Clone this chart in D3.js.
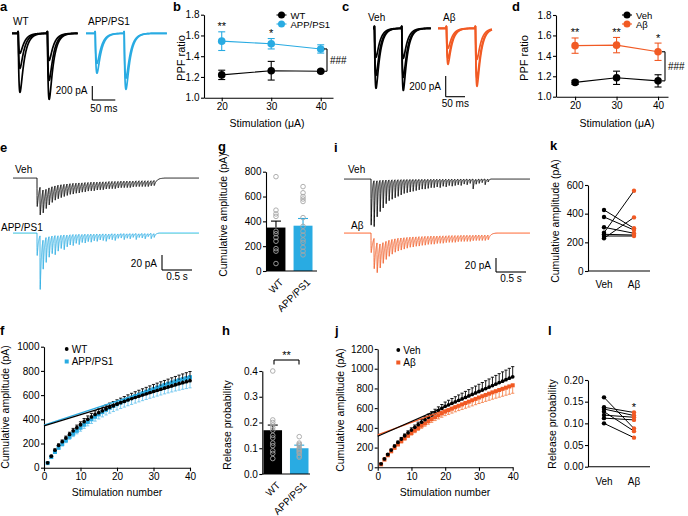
<!DOCTYPE html>
<html><head><meta charset="utf-8">
<script src="https://cdn.jsdelivr.net/npm/d3@7"></script>
<style>body{margin:0;background:#fff;} svg{display:block;}</style>
</head><body>
<script>
// ---------------- DATA ----------------
// paired-pulse traces (pA): each row = one trace [EPSC1, EPSC2]
const ppWT = [[286, 386], [500, 672], [843, 943]];
const ppAPP = [[430, 640], [570, 800]];
const ppVeh = [[280, 290], [455, 473], [580, 600]];
const ppAb = [[193, 300], [290, 483], [348, 560]];
const ppStimWT = [13.5, 77], ppStimAPP = [20, 83];
const ppStimVeh = [3.8, 74.5], ppStimAb = [21.9, 97];

// PPF ratio
const stimUA = [20, 30, 40];
const ppfWT = [1.22, 1.26, 1.255], ppfWTerr = [0.045, 0.09, 0.012];
const ppfAPP = [1.545, 1.52, 1.47], ppfAPPerr = [0.09, 0.05, 0.04];
const sigB = ["**", "*", ""];
const ppfVeh = [1.14, 1.185, 1.155], ppfVehErr = [0.02, 0.065, 0.06];
const ppfAb = [1.50, 1.505, 1.44], ppfAbErr = [0.075, 0.075, 0.085];
const sigD = ["**", "**", "*"];

// 20 Hz train EPSC amplitudes (pA), 40 pulses
const trainE_Veh = [38,38,32,27,24,22,20,19,18,17,16,15,15,14,14,13,13,12,12,12,11,11,11,10,10,10,10,9,9,9,9,9,8,8,8,8,8,8,7,7];
const trainE_APP = [30,72,40,34,28,24,26,21,18,20,16,14,15,12,14,11,12,10,11,9,10,8,9,10,7,8,9,6,6,8,6,7,5,8,5,6,7,4,7,5];
const trainI_Veh = [66,66,52,45,40,34,30,28,26,24,22,20,19,18,17,16,15,14,14,13,12,12,11,12,10,11,9,10,9,8,9,7,8,6,14,7,6,5,8,4];
const trainI_Ab = [28,44,44,36,31,27,24,22,20,19,18,17,16,15,15,14,14,13,13,12,12,12,11,11,11,10,10,10,10,9,9,9,9,9,8,8,8,8,8,7];

// cumulative amplitude (pA) vs stimulation number 1..40
const stimNum = d3.range(1, 41);
const cumWT = [40,95,145,185,215,245,275,305,330,355,380,400,420,440,455,470,485,500,512,525,537,548,560,571,582,592,602,612,622,632,641,650,659,668,677,686,695,703,711,719];
const cumWTerr = [5,8,10,12,14,16,18,20,22,24,26,28,29,30,31,32,33,34,35,36,38,40,42,44,46,48,50,52,54,56,58,60,62,64,66,68,70,72,74,76];
const cumAPP = [38,88,130,165,195,225,255,280,305,330,355,378,400,421,441,460,478,495,510,525,539,553,566,579,592,604,616,628,640,651,662,673,684,694,704,714,723,732,740,748];
const cumAPPerr = [5,8,10,13,15,18,20,23,25,28,30,32,34,36,38,40,42,44,46,48,50,52,54,56,58,60,62,64,66,68,70,72,74,76,78,80,82,84,86,88];
const fitWT = [345, 9.28], fitAPP = [352, 9.9];   // [intercept, slope]
const cumVeh = [35,85,130,175,215,252,287,320,350,378,405,432,458,483,507,530,553,575,597,619,634,649,664,679,694,709,724,739,754,769,784,799,814,829,844,859,874,889,904,918];
const cumVehErr = [4,6,8,10,12,14,16,18,20,22,24,26,28,30,32,34,36,38,40,43,46,49,52,55,58,61,64,67,70,73,76,79,82,85,88,91,94,97,100,103];
const cumAb = [30,78,122,162,198,232,264,294,322,348,374,399,423,446,468,489,509,528,547,565,580,595,610,624,638,652,666,680,694,708,721,734,747,760,772,784,796,808,820,832];
const cumAbErr = [3,5,7,9,11,13,15,17,19,21,23,25,27,29,31,33,35,37,39,41,43,45,47,49,51,53,55,57,59,61,63,65,67,69,71,73,75,77,79,81];
const fitVeh = [315, 15.0], fitAb = [330, 12.6];

// bar charts
const groupsG = ["WT", "APP/PS1"];
const cumBarMean = [350, 365], cumBarErr = [52, 58];
const cumDotsWT = [760, 490, 460, 440, 320, 300, 270, 240, 180, 160, 60];
const cumDotsAPP = [680, 630, 600, 580, 560, 430, 360, 320, 290, 250, 230, 190, 160, 130];
const prBarMean = [0.17, 0.10], prBarErr = [0.02, 0.012];
const prDotsWT = [0.40, 0.21, 0.20, 0.19, 0.18, 0.17, 0.15, 0.14, 0.12, 0.11, 0.09, 0.08, 0.06];
const prDotsAPP = [0.145, 0.12, 0.115, 0.11, 0.10, 0.095, 0.09, 0.085, 0.08, 0.07, 0.065];

// paired panels
const pairGroups = ["Veh", "A\u03b2"];
const kVeh = [426, 377, 305, 267, 256, 244, 228];
const kAb = [298, 286, 263, 560, 251, 244, 374];
const lVeh = [0.160, 0.137, 0.133, 0.127, 0.119, 0.112, 0.100];
const lAb = [0.088, 0.125, 0.118, 0.082, 0.114, 0.108, 0.067];

// ---------------- DRAWING ----------------
const FONT = "'Liberation Sans', Arial, Helvetica, sans-serif";
const FS = 10;
const BLUE = "#29abe2", ORANGE = "#f15a24", BLUE_L = "#6cc5ee", ORANGE_L = "#f5854f";
const svg = d3.select("body").append("svg").attr("width", 688).attr("height", 516)
  .style("font-family", FONT);

function txt(x, y, s, o = {}) {
  return svg.append("text").attr("x", x).attr("y", y).text(s)
    .attr("font-size", o.size || FS).attr("font-weight", o.bold ? "bold" : null)
    .attr("text-anchor", o.anchor || "start").attr("fill", o.fill || "#000");
}
function vtxt(cx, cy, s, size = 10.5) {
  svg.append("text").attr("transform", `translate(${cx + 3.6},${cy}) rotate(-90)`)
    .attr("text-anchor", "middle").attr("font-size", size).text(s);
}
function styleAx(g) {
  g.attr("font-size", FS).attr("font-family", FONT);
  g.selectAll("path,line").attr("stroke", "#000").attr("stroke-width", 1.1);
  g.selectAll("text").attr("fill", "#000");
}
function yAxis(x, scale, ticks, fmt) {
  const g = svg.append("g").attr("transform", `translate(${x},0)`)
    .call(d3.axisLeft(scale).tickValues(ticks).tickFormat(fmt).tickSize(3).tickPadding(1.5).tickSizeOuter(0));
  styleAx(g); return g;
}
function xAxis(y, scale, ticks, fmt) {
  const g = svg.append("g").attr("transform", `translate(0,${y})`)
    .call(d3.axisBottom(scale).tickValues(ticks).tickFormat(fmt).tickSize(3.5).tickPadding(2).tickSizeOuter(0));
  styleAx(g); return g;
}
function hline(x1, x2, y, c = "#000", w = 1.1) {
  svg.append("line").attr("x1", x1).attr("x2", x2).attr("y1", y).attr("y2", y).attr("stroke", c).attr("stroke-width", w);
}
function vline(x, y1, y2, c = "#000", w = 1.1) {
  svg.append("line").attr("x1", x).attr("x2", x).attr("y1", y1).attr("y2", y2).attr("stroke", c).attr("stroke-width", w);
}

// panel letters
[["a", 0, 11], ["b", 173, 11], ["c", 342, 11], ["d", 512, 11],
 ["e", 0, 152], ["g", 218, 151], ["i", 334, 152], ["k", 550, 150],
 ["f", 0, 335], ["h", 222, 335], ["j", 335, 335], ["l", 548, 335]]
  .forEach(([s, x, y]) => txt(x, y, s, { bold: true, size: 13 }));

// EPSC model
function epsc(tMax, dt, stims, amps, tauR, tauD, art) {
  const tpk = tauD * tauR / (tauD - tauR) * Math.log(tauD / tauR);
  const norm = Math.exp(-tpk / tauD) - Math.exp(-tpk / tauR);
  return d3.range(0, tMax, dt).map(t => {
    let v = 0;
    stims.forEach((s, i) => {
      const d = t - s;
      if (d > 0) v += amps[i] * (Math.exp(-d / tauD) - Math.exp(-d / tauR)) / norm;
      if (art && d >= -0.5 && d < 0.5) v -= art;
    });
    return [t, v];
  });
}
function drawTrace(pts, xs, ys, color, w) {
  svg.append("path").datum(pts).attr("fill", "none").attr("stroke", color).attr("stroke-width", w)
    .attr("stroke-linejoin", "round")
    .attr("d", d3.line().x(d => xs(d[0])).y(d => ys(d[1])));
}

// ---- a ----
(function () {
  const pxms = 0.46, pxpa = 14 / 200, base = 33.3;
  const ys = d3.scaleLinear().domain([0, 200]).range([base, base + 200 * pxpa]);
  let xs = d3.scaleLinear().domain([0, 143]).range([12, 12 + 143 * pxms]);
  ppWT.forEach(a => drawTrace(epsc(143, 0.25, ppStimWT, a, 2, 9, 25), xs, ys, "#000", 1.7));
  xs = d3.scaleLinear().domain([0, 176]).range([86, 86 + 176 * pxms]);
  ppAPP.forEach(a => drawTrace(epsc(176, 0.25, ppStimAPP, a, 2, 9, 25), xs, ys, BLUE, 1.7));
  txt(13, 25, "WT"); txt(88, 25, "APP/PS1");
  const sy = d3.scaleLinear().domain([0, 200]).range([100, 100 - 200 * pxpa]);
  const sx = d3.scaleLinear().domain([0, 50]).range([92.3, 92.3 + 50 * pxms]);
  vline(sx(0), sy(0), sy(200)); hline(sx(0), sx(50), sy(0));
  txt(87.5, 94, "200 pA", { anchor: "end" });
  txt(sx(25), 112, "50 ms", { anchor: "middle" });
})();

// ---- c ----
(function () {
  const pxms = 0.386, pxpa = 20.7 / 200, base = 28.3;
  const ys = d3.scaleLinear().domain([0, 200]).range([base, base + 200 * pxpa]);
  let xs = d3.scaleLinear().domain([0, 150]).range([373, 373 + 150 * pxms]);
  ppVeh.forEach(a => drawTrace(epsc(150, 0.25, ppStimVeh, a, 2, 10, 20), xs, ys, "#000", 1.7));
  xs = d3.scaleLinear().domain([0, 140]).range([438, 438 + 140 * pxms]);
  ppAb.forEach(a => drawTrace(epsc(140, 0.25, ppStimAb, a, 2, 10, 20), xs, ys, ORANGE, 1.7));
  txt(368, 21, "Veh"); txt(443, 21, "A\u03b2");
  const sy = d3.scaleLinear().domain([0, 200]).range([96.7, 96.7 - 200 * pxpa]);
  const sx = d3.scaleLinear().domain([0, 50]).range([445.7, 445.7 + 50 * pxms]);
  vline(sx(0), sy(0), sy(200)); hline(sx(0), sx(50), sy(0));
  txt(441, 90, "200 pA", { anchor: "end" });
  txt(sx(25), 107, "50 ms", { anchor: "middle" });
})();

// ---- PPF panels b, d ----
function ppfPanel(cfg) {
  const x = d3.scaleLinear().domain(cfg.xdom).range(cfg.xr);
  const y = d3.scaleLinear().domain([1.0, 1.8]).range(cfg.yr);
  yAxis(cfg.xr[0], y, [1.0, 1.2, 1.4, 1.6, 1.8], d3.format(".1f"));
  xAxis(cfg.yr[0], x, stimUA, d3.format("d"));
  cfg.series.forEach(s => {
    svg.append("path").datum(s.v).attr("fill", "none").attr("stroke", s.c).attr("stroke-width", 1.1)
      .attr("d", d3.line().x((d, i) => x(stimUA[i])).y(d => y(d)));
    s.v.forEach((v, i) => {
      const cx = x(stimUA[i]);
      vline(cx, y(v - s.e[i]), y(v + s.e[i]), s.c, 1.1);
      hline(cx - 3.5, cx + 3.5, y(v - s.e[i]), s.c, 1.1);
      hline(cx - 3.5, cx + 3.5, y(v + s.e[i]), s.c, 1.1);
    });
    svg.selectAll(null).data(s.v).enter().append("circle")
      .attr("cx", (d, i) => x(stimUA[i])).attr("cy", d => y(d)).attr("r", 3.8).attr("fill", s.c);
  });
  const top = cfg.series[1];
  cfg.sig.forEach((s, i) => {
    if (s) txt(x(stimUA[i]), y(top.v[i] + top.e[i]) - 1.5, s, { anchor: "middle", size: 11 });
  });
  // bracket
  const b0 = y(cfg.series[1].v[2]), b1 = y(cfg.series[0].v[2]);
  vline(cfg.bx, b0, b1); hline(cfg.bx - 3, cfg.bx, b0); hline(cfg.bx - 3, cfg.bx, b1);
  txt(cfg.bx + 3, (b0 + b1) / 2 + 4, "###", { size: 10 });
  // legend
  cfg.series.forEach((s, i) => {
    const ly = cfg.leg[1] + i * 9;
    hline(cfg.leg[0] - 5, cfg.leg[0] + 5, ly, s.c, 1.1);
    svg.append("circle").attr("cx", cfg.leg[0]).attr("cy", ly).attr("r", 3.5).attr("fill", s.c);
    txt(cfg.leg[0] + 9, ly + 3.5, s.n, { size: 9.5 });
  });
  vtxt(cfg.ylab[0], cfg.ylab[1], "PPF ratio", 11);
  txt(cfg.xlab[0], cfg.xlab[1], "Stimulation (\u03bcA)", { anchor: "middle", size: 10.5 });
}
ppfPanel({
  xdom: [16.42, 42.48], xr: [204, 333], yr: [97.7, 14.7],
  series: [{ v: ppfWT, e: ppfWTerr, c: "#000", n: "WT" }, { v: ppfAPP, e: ppfAPPerr, c: BLUE, n: "APP/PS1" }],
  sig: sigB, bx: 327, leg: [281.5, 15], ylab: [181.5, 58], xlab: [267, 127]
});
ppfPanel({
  xdom: [15.4, 42.4], xr: [556, 668], yr: [96.7, 15],
  series: [{ v: ppfVeh, e: ppfVehErr, c: "#000", n: "Veh" }, { v: ppfAb, e: ppfAbErr, c: ORANGE, n: "A\u03b2" }],
  sig: sigD, bx: 665, leg: [627, 15], ylab: [524.5, 58], xlab: [617, 127]
});

// ---- train traces e, i ----
function trainPanel(cfg) {
  const pxms = 0.06;
  const stims = d3.range(40).map(k => cfg.onset + 50 * k);
  cfg.tr.forEach(t => {
    const xs = d3.scaleLinear().domain([0, 3100]).range([cfg.x0, cfg.x0 + 3100 * pxms]);
    const ys = d3.scaleLinear().domain([0, 20]).range([t.base, t.base + cfg.px20]);
    drawTrace(epsc(3100, 0.5, stims, t.amps, 1.2, t.tau, 0), xs, ys, t.c, 0.9);
    txt(t.lx, t.ly, t.lab);
  });
  const sy = d3.scaleLinear().domain([0, 20]).range([cfg.sb[1], cfg.sb[1] - cfg.px20]);
  const sx = d3.scaleLinear().domain([0, 500]).range([cfg.sb[0], cfg.sb[0] + 500 * pxms]);
  vline(sx(0), sy(0), sy(20)); hline(sx(0), sx(500), sy(0));
  txt(sx(0) - 5, cfg.sb[1] - 3, "20 pA", { anchor: "end" });
  txt(sx(250), cfg.sb[1] + 10, "0.5 s", { anchor: "middle" });
}
trainPanel({
  x0: 13, onset: 400, px20: 15, sb: [162, 270],
  tr: [{ base: 178, amps: trainE_Veh, tau: 40, c: "#000", lab: "Veh", lx: 15, ly: 173 },
       { base: 233, amps: trainE_APP, tau: 22, c: BLUE, lab: "APP/PS1", lx: 1, ly: 231 }]
});
trainPanel({
  x0: 344, onset: 450, px20: 14, sb: [496, 272],
  tr: [{ base: 179, amps: trainI_Veh, tau: 14, c: "#000", lab: "Veh", lx: 348, ly: 173 },
       { base: 233, amps: trainI_Ab, tau: 35, c: ORANGE, lab: "A\u03b2", lx: 351, ly: 229 }]
});

// ---- cumulative panels f, j ----
function cumPanel(cfg) {
  const x = d3.scaleLinear().domain([0, 40]).range(cfg.xr);
  const y = d3.scaleLinear().domain([0, cfg.ymax]).range(cfg.yr);
  yAxis(cfg.xr[0], y, d3.range(0, cfg.ymax + 1, 200), d3.format("d"));
  xAxis(cfg.yr[0], x, [0, 10, 20, 30, 40], d3.format("d"));
  const [s1, s2] = cfg.series;
  s2.v.forEach((v, i) => {
    const cx = x(stimNum[i]);
    vline(cx, y(v), y(v - s2.e[i]), s2.ce, 0.9);
    hline(cx - 1.6, cx + 1.6, y(v - s2.e[i]), s2.ce, 0.9);
  });
  svg.selectAll(null).data(s2.v).enter().append("rect")
    .attr("x", (d, i) => x(stimNum[i]) - 2).attr("y", d => y(d) - 2).attr("width", 4).attr("height", 4).attr("fill", s2.c);
  s1.v.forEach((v, i) => {
    const cx = x(stimNum[i]);
    vline(cx, y(v), y(v + s1.e[i]), "#000", 0.9);
    hline(cx - 1.6, cx + 1.6, y(v + s1.e[i]), "#000", 0.9);
  });
  svg.selectAll(null).data(s1.v).enter().append("circle")
    .attr("cx", (d, i) => x(stimNum[i])).attr("cy", d => y(d)).attr("r", 1.9).attr("fill", "#000");
  [[s2.fit, s2.c], [s1.fit, "#000"]].forEach(([f, c]) => {
    svg.append("line").attr("x1", x(0)).attr("y1", y(f[0])).attr("x2", x(40)).attr("y2", y(f[0] + 40 * f[1]))
      .attr("stroke", c).attr("stroke-width", 1.3);
  });
  const [lx, ly] = cfg.leg;
  svg.append("circle").attr("cx", lx).attr("cy", ly).attr("r", 1.9).attr("fill", "#000");
  txt(lx + 5, ly + 3.5, s1.n);
  svg.append("rect").attr("x", lx - 2).attr("y", ly + 12.5 - 2).attr("width", 4).attr("height", 4).attr("fill", s2.c);
  txt(lx + 5, ly + 16, s2.n);
  vtxt(cfg.ylab[0], cfg.ylab[1], "Cumulative amplitude (pA)");
  txt(cfg.xlab[0], cfg.xlab[1], "Stimulation number", { anchor: "middle", size: 10.5 });
}
cumPanel({
  xr: [44, 190], yr: [467.7, 346.7], ymax: 1000, leg: [66.7, 349], ylab: [5, 407], xlab: [117, 496],
  series: [{ v: cumWT, e: cumWTerr, fit: fitWT, n: "WT" },
           { v: cumAPP, e: cumAPPerr, fit: fitAPP, c: BLUE, ce: BLUE_L, n: "APP/PS1" }]
});
cumPanel({
  xr: [377.7, 512.7], yr: [467.3, 349], ymax: 1200, leg: [398.3, 350], ylab: [340, 410], xlab: [445, 496],
  series: [{ v: cumVeh, e: cumVehErr, fit: fitVeh, n: "Veh" },
           { v: cumAb, e: cumAbErr, fit: fitAb, c: ORANGE, ce: ORANGE_L, n: "A\u03b2" }]
});

// ---- bar panels g, h ----
function barPanel(cfg) {
  const x = d3.scaleBand().domain(groupsG).range(cfg.br).paddingInner(0.3).paddingOuter(0);
  const y = d3.scaleLinear().domain([0, cfg.ymax]).range(cfg.yr);
  const cols = ["#000", BLUE];
  groupsG.forEach((g, i) => {
    svg.append("rect").attr("x", x(g)).attr("y", y(cfg.mean[i])).attr("width", x.bandwidth())
      .attr("height", y(0) - y(cfg.mean[i])).attr("fill", cols[i]);
    const cx = x(g) + x.bandwidth() / 2;
    vline(cx, y(cfg.mean[i]), y(cfg.mean[i] + cfg.err[i]), cols[i], 1.1);
    hline(cx - 5, cx + 5, y(cfg.mean[i] + cfg.err[i]), cols[i], 1.1);
    svg.selectAll(null).data(cfg.dots[i]).enter().append("circle")
      .attr("cx", cx).attr("cy", d => y(d)).attr("r", 2.3)
      .attr("fill", "none").attr("stroke", "#a6a6a6").attr("stroke-width", 0.9);
    svg.append("text").attr("transform", `translate(${cx + 3},${y(0) + 7}) rotate(-45)`)
      .attr("text-anchor", "end").attr("dy", "0.7em").attr("font-size", FS).text(g);
  });
  yAxis(cfg.ax, y, cfg.ticks, cfg.fmt);
  hline(cfg.ax, cfg.axEnd, y(0));
  vtxt(cfg.ylab[0], cfg.ylab[1], cfg.ytitle);
}
barPanel({
  br: [266.5, 312.5], yr: [271, 171.7], ymax: 800, ax: 266, axEnd: 317,
  ticks: [0, 200, 400, 600, 800], fmt: d3.format("d"),
  mean: cumBarMean, err: cumBarErr, dots: [cumDotsWT, cumDotsAPP],
  ylab: [223, 215], ytitle: "Cumulative amplitude (pA)"
});
barPanel({
  br: [263.5, 308.5], yr: [474, 371], ymax: 0.4, ax: 262.3, axEnd: 310,
  ticks: [0, 0.1, 0.2, 0.3, 0.4], fmt: d3.format(".1f"),
  mean: prBarMean, err: prBarErr, dots: [prDotsWT, prDotsAPP],
  ylab: [227, 425], ytitle: "Release probability"
});
hline(274, 299, 360); vline(274, 360, 364.5); vline(299, 360, 364.5);
txt(286.5, 359, "**", { anchor: "middle", size: 11 });

// ---- paired panels k, l ----
function pairPanel(cfg) {
  const x = d3.scalePoint().domain(pairGroups).range([604, 634]);
  const y = d3.scaleLinear().domain([0, cfg.ymax]).range(cfg.yr);
  yAxis(588, y, cfg.ticks, cfg.fmt);
  hline(588, 650, y(0));
  cfg.a.forEach((v, i) => {
    svg.append("line").attr("x1", x(pairGroups[0])).attr("y1", y(v))
      .attr("x2", x(pairGroups[1])).attr("y2", y(cfg.b[i])).attr("stroke", "#000").attr("stroke-width", 1);
  });
  svg.selectAll(null).data(cfg.a).enter().append("circle")
    .attr("cx", x(pairGroups[0])).attr("cy", d => y(d)).attr("r", 2.2).attr("fill", "#000");
  svg.selectAll(null).data(cfg.b).enter().append("circle")
    .attr("cx", x(pairGroups[1])).attr("cy", d => y(d)).attr("r", 2.2).attr("fill", ORANGE);
  pairGroups.forEach(g => txt(x(g), cfg.labY, g, { anchor: "middle" }));
  vtxt(cfg.ylab[0], cfg.ylab[1], cfg.ytitle);
  return { x, y };
}
pairPanel({ ymax: 600, yr: [271, 185], ticks: [0, 200, 400, 600], fmt: d3.format("d"),
  a: kVeh, b: kAb, labY: 288, ylab: [555, 221], ytitle: "Cumulative amplitude (pA)" });
const pl = pairPanel({ ymax: 0.2, yr: [466.7, 380], ticks: [0, 0.05, 0.1, 0.15, 0.2], fmt: d3.format(".2f"),
  a: lVeh, b: lAb, labY: 485, ylab: [552, 424], ytitle: "Release probability" });
txt(pl.x(pairGroups[1]), pl.y(d3.max(lAb)) - 2, "*", { anchor: "middle", size: 11 });
</script>
</body></html>
